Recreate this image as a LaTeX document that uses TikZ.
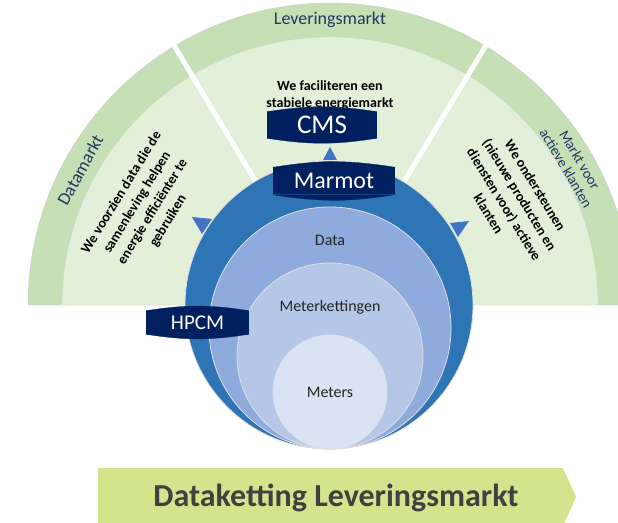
\documentclass[tikz,border=0pt]{standalone}
\usepackage{fontspec}
\setmainfont{Carlito}
\definecolor{bandgreen}{RGB}{197,224,180}
\definecolor{lightgreen}{RGB}{226,240,217}
\definecolor{navy}{RGB}{0,32,96}
\definecolor{ringblue}{RGB}{46,117,182}
\definecolor{datablue}{RGB}{143,170,220}
\definecolor{chainblue}{RGB}{180,199,231}
\definecolor{meterblue}{RGB}{218,227,243}
\definecolor{arrowblue}{RGB}{68,114,196}
\definecolor{labelblue}{RGB}{31,56,100}
\definecolor{bannergreen}{RGB}{212,228,140}

\begin{document}
\begin{tikzpicture}[x=1pt,y=1pt,
    sector/.style={font=\bfseries\fontsize{14}{18.2}\selectfont,align=center,text=black},
    band/.style={font=\fontsize{18}{20}\selectfont,text=labelblue,align=center},
    circ/.style={font=\fontsize{16}{16}\selectfont,text=black!85},
    db/.style={fill=navy,text=white,inner sep=0pt,minimum height=26,font=\fontsize{24}{24}\selectfont},
    ring/.style={draw=gray!25,line width=0.8}]
    \useasboundingbox (0,0) rectangle (618,522);
    \coordinate (fc) at (330,217);
    % market fan
    \path[fill=bandgreen,draw=gray!40] (fc) ++(302,0) arc (0:180:302) -- cycle;
    \path[fill=lightgreen,draw=gray!35] (fc) ++(268,0) arc (0:180:268) -- cycle;
    \draw[white,line width=5] (fc) -- ++(121:310);
    \draw[white,line width=5] (fc) -- ++(59:310);
    \path (fc) ++(90:285) node[band] (lm) {Leveringsmarkt};
    \path (fc) ++(151.6:284) node[band,rotate=61.6] (dm) {Datamarkt};
    \node[band,font=\fontsize{14.5}{16}\selectfont,rotate=-59.5] (mv) at (573,358) {Markt voor\\actieve klanten};
    % sector texts
    \node[sector,font=\bfseries\fontsize{14}{17}\selectfont] (midtxt) at (330,427) {We faciliteren een\\stabiele energiemarkt};
    \node[sector,rotate=58.5] (lefttxt) at (145,315) {We voorzien data die de\\samenleving helpen\\energie efficiënter te\\gebruiken};
    \node[sector,rotate=-58.5] (righttxt) at (512,322.5) {We ondersteunen\\(nieuwe producten en\\diensten voor) actieve\\klanten};
    \fill[arrowblue] (192,305) -- (212,303) -- (202,288) -- cycle;
    \fill[arrowblue] (450,299) -- (469,301) -- (458,285) -- cycle;
    % data chain circles
    \path[ring,fill=ringblue] (329,217) circle (144);
    \path[ring,fill=datablue] (330,194) circle (121);
    \path[ring,fill=chainblue] (330,166) circle (93);
    \path[ring,fill=meterblue] (330,130) circle (57);
    \node[circ] (data) at (330,282) {Data};
    \node[circ] (keten) at (330,215) {Meterkettingen};
    \node[circ] (meters) at (330,130) {Meters};
    % systems
    \node[db,minimum width=110,font=\fontsize{27}{27}\selectfont] (cms) at (322,397) {CMS};
    \node[db,minimum width=122,minimum height=27] (marmot) at (334,341) {Marmot};
    \node[db,minimum width=103,minimum height=23,font=\fontsize{21}{21}\selectfont] (hpcm) at (197.5,199.5) {HPCM};
    \foreach \n in {cms,marmot,hpcm}
        \path[fill=navy,draw=navy,line width=0.3] (\n.north west) to[bend left=9] (\n.north east) -- cycle
            (\n.south west) to[bend right=9] (\n.south east) -- cycle;
    \fill[arrowblue] (323,362) -- (337,362) -- (330,375) -- cycle;
    % banner
    \fill[bannergreen] (98,54) -- (563,54) -- (576,25) -- (563,-4) -- (98,-4) -- cycle;
    \node[font=\bfseries\fontsize{32}{32}\selectfont,text=black!75] (banner) at (336,24) {Dataketting Leveringsmarkt};
\end{tikzpicture}
\end{document}
